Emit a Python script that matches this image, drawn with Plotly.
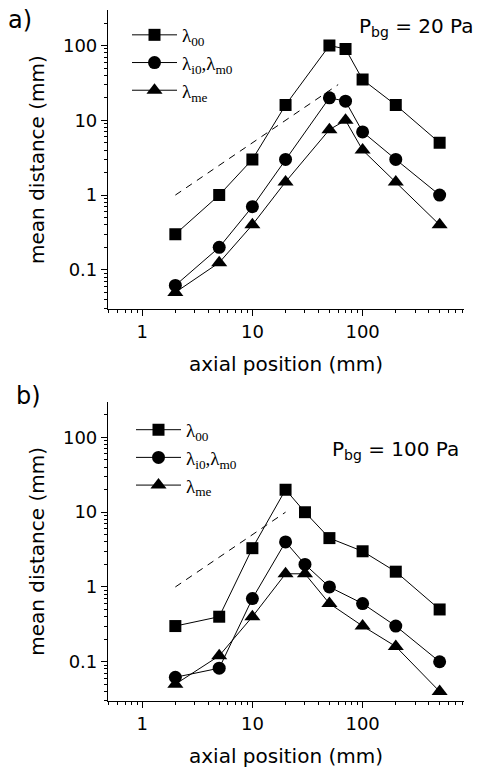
import plotly.graph_objects as go

# ---------------- data ----------------
x_a = [2, 5, 10, 20, 50, 70, 100, 200, 500]
a_l00 = [0.3, 1, 3, 16, 100, 90, 35, 16, 5]
a_li0 = [0.062, 0.2, 0.7, 3, 20, 18, 7, 3, 1]
a_lme = [0.05, 0.125, 0.4, 1.5, 7.5, 10, 4, 1.5, 0.4]
a_dash_x = [2, 60]
a_dash_y = [1, 30]

x_b = [2, 5, 10, 20, 30, 50, 100, 200, 500]
b_l00 = [0.3, 0.4, 3.3, 20, 10, 4.5, 3, 1.6, 0.5]
b_li0 = [0.062, 0.082, 0.7, 4, 2, 1, 0.6, 0.3, 0.1]
b_lme = [0.05, 0.12, 0.4, 1.5, 1.5, 0.6, 0.3, 0.16, 0.04]
b_dash_x = [2, 20]
b_dash_y = [1, 10]

series_names = ["λ<sub>00</sub>", "λ<sub>i0</sub>,λ<sub>m0</sub>", "λ<sub>me</sub>"]
x_tickvals = [1, 10, 100]
x_ticktext = ["1", "10", "100"]
y_tickvals = [0.1, 1, 10, 100]
y_ticktext = ["0.1", "1", "10", "100"]
minor_vals = [m * 10 ** e for e in range(-2, 4) for m in range(2, 10)]

# ---------------- layout helpers ----------------
W, H = 478, 774
ML, MR, MT, MB = 108, 14, 10, 71
PW, PH = W - ML - MR, H - MT - MB


def px_x(p):
    return (p - ML) / PW


def px_y(p):
    return 1 - (p - MT) / PH


SANS = "DejaVu Sans"
SERIF = "Liberation Serif"
symbols = ["square", "circle", "triangle-up"]
sizes = [12, 13, 14]

fig = go.Figure()

panels = [
    (x_a, [a_l00, a_li0, a_lme], a_dash_x, a_dash_y, "x", "y", "legend"),
    (x_b, [b_l00, b_li0, b_lme], b_dash_x, b_dash_y, "x2", "y2", "legend2"),
]
for xs, ys_list, dx, dy, xa, ya, lg in panels:
    fig.add_trace(go.Scatter(x=dx, y=dy, mode="lines", xaxis=xa, yaxis=ya,
                             line=dict(color="black", width=1, dash="7px,6px"),
                             showlegend=False, hoverinfo="skip"))
    for name, ys, sym, sz in zip(series_names, ys_list, symbols, sizes):
        fig.add_trace(go.Scatter(x=xs, y=ys, mode="lines+markers", name=name,
                                 xaxis=xa, yaxis=ya, legend=lg,
                                 line=dict(color="black", width=1),
                                 marker=dict(symbol=sym, size=sz, color="black")))

axis_common = dict(type="log", showline=True, linecolor="black", linewidth=1.2,
                   ticks="outside", ticklen=6, tickwidth=1.2, tickcolor="black",
                   showgrid=False, zeroline=False, mirror=False,
                   tickfont=dict(family=SANS, size=18, color="black"),
                   minor=dict(tickvals=minor_vals, ticks="outside", ticklen=3,
                              tickwidth=1, tickcolor="black", showgrid=False))

x_range = [-0.31, 2.92]
y_range = [-1.525, 2.475]
title_font = dict(family=SANS, size=20, color="black")

top_dom = [px_y(310), 1]
bot_dom = [0, px_y(403)]

legend_font = dict(family=SERIF, size=19, color="black")

fig.update_layout(
    width=W, height=H,
    margin=dict(l=ML, r=MR, t=MT, b=MB),
    paper_bgcolor="white", plot_bgcolor="white",
    xaxis=dict(axis_common, range=x_range, anchor="y", domain=[0, 1],
               tickvals=x_tickvals, ticktext=x_ticktext,
               title=dict(text="axial position (mm)", font=title_font, standoff=16)),
    yaxis=dict(axis_common, range=y_range, anchor="x", domain=top_dom,
               tickvals=y_tickvals, ticktext=y_ticktext,
               title=dict(text="mean distance (mm)", font=title_font, standoff=12)),
    xaxis2=dict(axis_common, range=x_range, anchor="y2", domain=[0, 1],
                tickvals=x_tickvals, ticktext=x_ticktext,
                title=dict(text="axial position (mm)", font=title_font, standoff=16)),
    yaxis2=dict(axis_common, range=y_range, anchor="x2", domain=bot_dom,
                tickvals=y_tickvals, ticktext=y_ticktext,
                title=dict(text="mean distance (mm)", font=title_font, standoff=12)),
    legend=dict(x=px_x(127), y=px_y(16), xanchor="left", yanchor="top",
                bgcolor="rgba(0,0,0,0)", font=legend_font,
                itemwidth=45, tracegroupgap=0),
    legend2=dict(x=px_x(131), y=px_y(412), xanchor="left", yanchor="top",
                 bgcolor="rgba(0,0,0,0)", font=legend_font,
                 itemwidth=45, tracegroupgap=0),
    showlegend=True,
)

annots = [
    dict(text="a)", x=px_x(6), y=px_y(20), xanchor="left", yanchor="middle", size=24),
    dict(text="b)", x=px_x(14), y=px_y(397), xanchor="left", yanchor="middle", size=24),
    dict(text="P<sub>bg</sub> = 20 Pa", x=px_x(476), y=px_y(27), xanchor="right", yanchor="middle", size=20),
    dict(text="P<sub>bg</sub> = 100 Pa", x=px_x(461), y=px_y(451), xanchor="right", yanchor="middle", size=20),
]
for a in annots:
    fig.add_annotation(text=a["text"], x=a["x"], y=a["y"], xref="paper", yref="paper",
                       xanchor=a["xanchor"], yanchor=a["yanchor"], showarrow=False,
                       font=dict(family=SANS, size=a["size"], color="black"))

fig.write_html("out.html", config={"displayModeBar": False},
               post_script="document.body.style.margin='0';")
